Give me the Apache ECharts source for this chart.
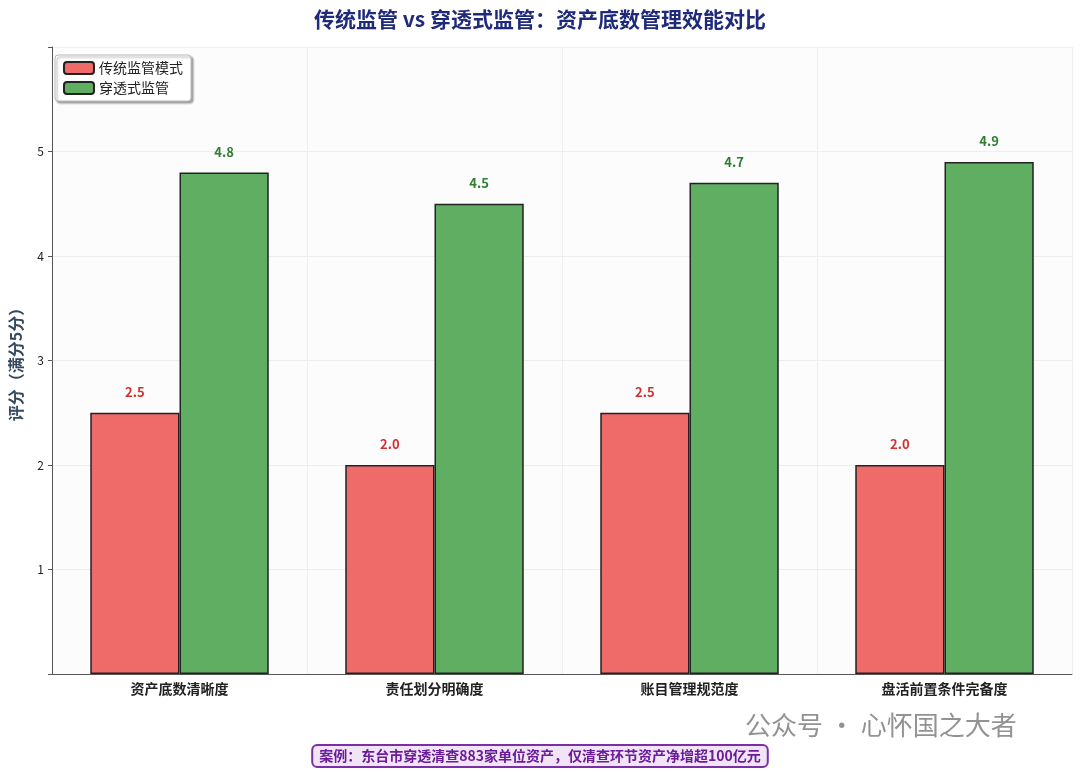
<!DOCTYPE html>
<html>
<head>
<meta charset="utf-8">
<script src="https://cdn.jsdelivr.net/npm/echarts@6/dist/echarts.min.js"></script>
<style>html,body{margin:0;padding:0;background:#fff}#echart{width:1080px;height:772px}</style>
</head>
<body>
<div id="echart"></div>
<script>
var categories = ['资产底数清晰度', '责任划分明确度', '账目管理规范度', '盘活前置条件完备度'];
var traditional = [2.5, 2.0, 2.5, 2.0];
var penetrating = [4.8, 4.5, 4.7, 4.9];
var yTicks = [1, 2, 3, 4, 5];

try {
    var chart = echarts.init(document.getElementById('echart'));
    var font = '"Noto Sans CJK SC", "DejaVu Sans", sans-serif';
    var option = {
        backgroundColor: '#fff',
        textStyle: { fontFamily: font },
        title: {
            text: '传统监管 vs 穿透式监管：资产底数管理效能对比',
            left: 'center', top: 4,
            textStyle: { fontSize: 21, fontWeight: 'bold', color: '#1f2a7a', fontFamily: font }
        },
        legend: {
            left: 55, top: 55, orient: 'vertical', itemGap: 6,
            itemWidth: 30, itemHeight: 12,
            padding: [6, 8], borderColor: '#bbb', borderWidth: 1, borderRadius: 3,
            backgroundColor: '#fff',
            shadowColor: 'rgba(0,0,0,0.35)', shadowOffsetX: 2, shadowOffsetY: 2, shadowBlur: 2,
            textStyle: { fontSize: 14, color: '#222' },
            data: ['传统监管模式', '穿透式监管']
        },
        grid: { left: 45, right: 8, top: 47, bottom: 98, containLabel: false, show: true, backgroundColor: '#fcfcfc', borderWidth: 0 },
        xAxis: {
            type: 'category', data: categories,
            axisLine: { lineStyle: { color: '#555' } },
            axisTick: { show: false },
            axisLabel: { fontSize: 14, fontWeight: 'bold', color: '#222', margin: 8 },
            splitLine: { show: true, lineStyle: { color: '#eee' } }
        },
        yAxis: {
            type: 'value', min: 0, max: 6, interval: 1,
            name: '评分（满分5分）', nameLocation: 'middle', nameGap: 28,
            nameTextStyle: { fontSize: 16, fontWeight: 'bold', color: '#34495e' },
            axisLine: { show: true, lineStyle: { color: '#555' } },
            axisTick: { show: true, length: 4, lineStyle: { color: '#555' } },
            axisLabel: {
                fontSize: 12, color: '#222',
                formatter: function (v) { return yTicks.indexOf(v) >= 0 ? String(v) : ''; }
            },
            splitLine: { lineStyle: { color: '#eee' } }
        },
        series: [
            {
                name: '传统监管模式', type: 'bar', data: traditional,
                barWidth: '35%', barGap: '0%',
                itemStyle: { color: '#ef6b6a', borderColor: '#222', borderWidth: 1.5 },
                label: { show: true, position: 'top', distance: 14, formatter: function (p) { return p.value.toFixed(1); },
                    fontSize: 13, fontWeight: 'bold', color: '#d32f2f' }
            },
            {
                name: '穿透式监管', type: 'bar', data: penetrating,
                barWidth: '35%',
                itemStyle: { color: '#5fae62', borderColor: '#222', borderWidth: 1.5 },
                label: { show: true, position: 'top', distance: 14, formatter: function (p) { return p.value.toFixed(1); },
                    fontSize: 13, fontWeight: 'bold', color: '#2e7d32' }
            }
        ],
        graphic: [
            {
                type: 'text', left: 745, top: 712,
                style: { text: '公众号 · 心怀国之大者', fontSize: 26, fill: 'rgba(110,110,110,0.75)', fontFamily: font }
            },
            {
                type: 'text', left: 'center', top: 744,
                style: {
                    text: '案例：东台市穿透清查883家单位资产，仅清查环节资产净增超100亿元',
                    fontSize: 14, fontWeight: 'bold', fill: '#6a1b9a', fontFamily: font,
                    backgroundColor: '#f1e4f6', borderColor: '#7b2fa6', borderWidth: 2,
                    borderRadius: 4, padding: [3, 6]
                }
            }
        ]
    };
    chart.setOption(option);
} catch (error) {
    console.error('Failed to draw chart');
    console.error(error);
}
</script>
</body>
</html>
